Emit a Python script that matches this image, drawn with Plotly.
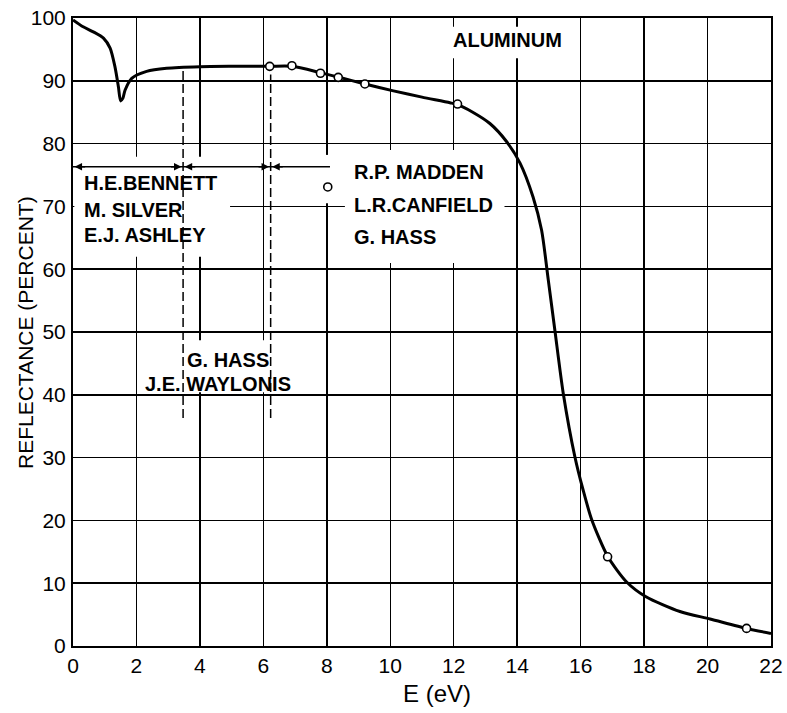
import plotly.graph_objects as go

# ---------------- data ----------------
energy = [0, 0.32, 0.64, 0.96, 1.17, 1.32, 1.43, 1.5, 1.57, 1.64, 1.85, 2.32, 2.95,
          4.0, 5.0, 6.2, 6.9, 7.8, 8.36, 9.2, 10.1, 11.0, 11.88, 12.12, 12.6,
          13.14, 13.67, 14.09, 14.5, 14.77, 14.98, 15.19, 15.45, 15.82, 16.08,
          16.35, 16.85, 17.45, 18.06, 19.13, 20.08, 21.23, 22.0]
reflectance = [99.7, 98.6, 97.8, 96.8, 95.2, 92.3, 89.1, 86.8, 87.2, 88.5, 90.4, 91.5, 92.0,
               92.25, 92.3, 92.3, 92.3, 91.3, 90.6, 89.5, 88.4, 87.4, 86.5, 86.2, 85.0,
               83.2, 80.3, 76.9, 71.5, 66.2, 58.3, 50.2, 40.3, 30.1, 24.8,
               20.1, 14.3, 10.2, 7.85, 5.5, 4.3, 2.8, 2.0]

circle_energy = [6.2, 6.9, 7.8, 8.36, 9.2, 12.12, 16.85, 21.23]
circle_reflectance = [92.3, 92.4, 91.2, 90.55, 89.5, 86.3, 14.2, 2.8]

x_ticks = list(range(0, 23, 2))
x_tick_labels = [str(v) for v in x_ticks]
y_ticks = list(range(0, 101, 10))
y_tick_labels = [str(v) for v in y_ticks]

# annotation texts and anchor positions (data coords)
title_text = "ALUMINUM"
title_pos = (13.68, 96.5)
bennett_lines = ["H.E.BENNETT", "M. SILVER", "E.J. ASHLEY"]
bennett_x = 0.28
bennett_y = [73.7, 69.4, 65.4]
madden_lines = ["R.P. MADDEN", "L.R.CANFIELD", "G. HASS"]
madden_x = 8.79
madden_y = [75.5, 70.2, 65.1]
hass_lines = ["G. HASS", "J.E. WAYLONIS"]
hass_x = [3.53, 2.2]
hass_y = [45.5, 41.7]
legend_circle = (8.03, 73.1)

bracket_x = [0, 3.47, 6.23, 8.1]
bracket_y = 76.3
dashed_x = [3.47, 6.23]
dashed_top = [91.7, 91.0]
dashed_bottom = 36.3

# white boxes that interrupt the grid behind the lettering (x0, x1, y0, y1)
white_boxes = [
    (11.9, 14.4, 93.6, 98.6),
    (0.05, 4.35, 62.0, 77.9),
    (0.05, 4.95, 69.3, 70.7),
    (8.57, 13.6, 61.0, 79.0),
    (7.8, 8.3, 70.5, 78.2),
    (2.15, 6.84, 40.4, 48.7),
]

FONT = "Liberation Sans, Arial, sans-serif"

fig = go.Figure()

fig.add_trace(go.Scatter(
    x=energy, y=reflectance, mode="lines",
    line=dict(color="black", width=3, shape="spline", smoothing=0.7),
    hoverinfo="skip", showlegend=False,
))
fig.add_trace(go.Scatter(
    x=circle_energy + [legend_circle[0]], y=circle_reflectance + [legend_circle[1]],
    mode="markers",
    marker=dict(symbol="circle", size=8, color="white", line=dict(color="black", width=1.6)),
    hoverinfo="skip", showlegend=False,
))

shapes = []
for x0, x1, y0, y1 in white_boxes:
    shapes.append(dict(type="rect", xref="x", yref="y", x0=x0, x1=x1, y0=y0, y1=y1,
                       fillcolor="white", line=dict(width=0), layer="between"))
for xd, yt in zip(dashed_x, dashed_top):
    shapes.append(dict(type="line", xref="x", yref="y", x0=xd, x1=xd, y0=dashed_bottom, y1=yt,
                       line=dict(color="black", width=1.5, dash="9px,4px"), layer="between"))
shapes.append(dict(type="line", xref="x", yref="y", x0=bracket_x[0], x1=bracket_x[-1],
                   y0=bracket_y, y1=bracket_y, line=dict(color="black", width=1.5), layer="between"))

annotations = []
# arrow heads on the bracket line
for xa, direction in [(bracket_x[0], 1), (bracket_x[1], -1), (bracket_x[1], 1),
                      (bracket_x[2], -1), (bracket_x[2], 1)]:
    tip = xa + (0.05 * direction)
    annotations.append(dict(x=tip, y=bracket_y, xref="x", yref="y", text="", showarrow=True,
                            ax=12 * direction, ay=0, arrowhead=2, arrowsize=1, arrowwidth=1.5,
                            arrowcolor="black"))

label_font = dict(family=FONT, size=20, color="black", weight="bold")
annotations.append(dict(x=title_pos[0], y=title_pos[1], xref="x", yref="y", text=title_text,
                        showarrow=False, font=label_font, xanchor="center", yanchor="middle"))
for t, yy in zip(bennett_lines, bennett_y):
    annotations.append(dict(x=bennett_x, y=yy, xref="x", yref="y", text=t, showarrow=False,
                            font=label_font, xanchor="left", yanchor="middle"))
for t, yy in zip(madden_lines, madden_y):
    annotations.append(dict(x=madden_x, y=yy, xref="x", yref="y", text=t, showarrow=False,
                            font=label_font, xanchor="left", yanchor="middle"))
for t, xx, yy in zip(hass_lines, hass_x, hass_y):
    annotations.append(dict(x=xx, y=yy, xref="x", yref="y", text=t, showarrow=False,
                            font=label_font, xanchor="left", yanchor="middle"))

# axis titles
annotations.append(dict(x=-0.0688, y=0.5, xref="paper", yref="paper",
                        text="REFLECTANCE (PERCENT)", textangle=-90, showarrow=False,
                        font=dict(family=FONT, size=21, color="black"),
                        xanchor="center", yanchor="middle"))
annotations.append(dict(x=0.521, y=-0.075, xref="paper", yref="paper", text="E (eV)",
                        showarrow=False, font=dict(family=FONT, size=24, color="black"),
                        xanchor="center", yanchor="middle"))

fig.update_layout(
    width=787, height=713,
    margin=dict(l=73, r=16, t=18, b=67, autoexpand=False),
    paper_bgcolor="white", plot_bgcolor="white",
    shapes=shapes, annotations=annotations,
    showlegend=False,
)
fig.update_xaxes(range=[0, 22], tickmode="array", tickvals=x_ticks, ticktext=x_tick_labels,
                 showgrid=True, gridcolor="black", gridwidth=1.5, zeroline=False,
                 showline=True, linecolor="black", linewidth=2, mirror=True,
                 ticks="", ticklen=0, ticklabelstandoff=0, automargin=False,
                 tickfont=dict(family=FONT, size=21, color="black"))
fig.update_yaxes(range=[0, 100], tickmode="array", tickvals=y_ticks, ticktext=y_tick_labels,
                 showgrid=True, gridcolor="black", gridwidth=1.5, zeroline=False,
                 showline=True, linecolor="black", linewidth=2, mirror=True,
                 ticks="", ticklen=0, ticklabelstandoff=1, automargin=False,
                 tickfont=dict(family=FONT, size=21, color="black"))

fig.write_html("out.html", config={"displayModeBar": False, "staticPlot": True},
               post_script="document.body.style.margin='0px';")
